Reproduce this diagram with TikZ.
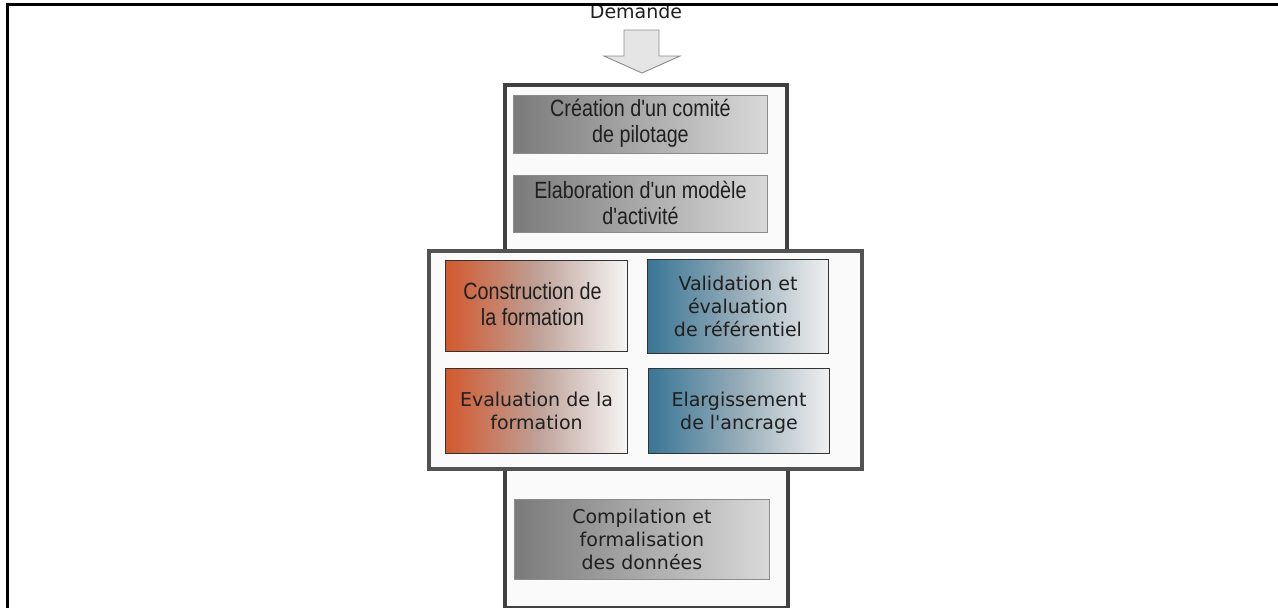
\documentclass[tikz,border=0pt]{standalone}
\usepackage{fontspec}
\setmainfont{DejaVu Sans}
\newfontfamily\narrowfont[FakeStretch=0.84]{Liberation Sans}
\definecolor{orl}{RGB}{211,88,46}
\definecolor{orm}{RGB}{190,160,150}
\definecolor{orr}{RGB}{246,246,246}
\definecolor{bll}{RGB}{57,118,150}
\definecolor{blm}{RGB}{150,172,184}
\definecolor{blr}{RGB}{240,240,240}
\begin{document}
\begin{tikzpicture}[x=1pt,y=-1pt,
  txt/.style={font=\fontsize{19}{23}\selectfont, text=black!88, align=center, inner sep=0pt},
  ntxt/.style={font=\narrowfont\fontsize{23.5}{26.5}\selectfont, text=black!88, align=center, inner sep=0pt},
  frame/.style={draw=black!75, line width=3.8pt, fill=white!98!black, rectangle, inner sep=0pt, anchor=north west},
  graybox/.style={rectangle, anchor=north west, draw=black!45, line width=0.9pt, left color=black!52, right color=black!15},
  orangebox/.style={rectangle, anchor=north west, draw=black!80, line width=1pt, left color=orl, right color=orr, middle color=orm},
  bluebox/.style={rectangle, anchor=north west, draw=black!80, line width=1pt, left color=bll, right color=blr, middle color=blm},
]
\useasboundingbox (0,0) rectangle (1278,608);
\fill[white] (0,0) rectangle (1278,608);

% Demande + block arrow
\node[txt, anchor=base] (dem) at (636,18.5) {Demande};
\coordinate (a1) at (624,30);
\coordinate (a2) at (659,30);
\coordinate (a3) at (659,56);
\coordinate (a4) at (680,56);
\coordinate (tip) at (642,73);
\coordinate (a6) at (604,56);
\coordinate (a7) at (624,56);
\filldraw[fill=black!10, draw=black!45, line width=0.9pt, line join=miter]
  (a1) -- (a2) -- (a3) -- (a4) -- (tip) -- (a6) -- (a7) -- cycle;

% outer frames
\node[frame, minimum width=282pt, minimum height=166pt] (topf) at (503,83) {};
\node[frame, minimum width=283pt, minimum height=140pt] (botf) at (503,466) {};
\node[frame, draw=black!68, minimum width=433pt, minimum height=218pt] (midf) at (427,249) {};

% top boxes
\node[graybox, minimum width=254pt, minimum height=58pt] (b1) at (513,95) {};
\node[ntxt] at ([yshift=1pt]b1.center) {Création d'un comité\\de pilotage};
\node[graybox, minimum width=254pt, minimum height=57pt] (b2) at (513,175) {};
\node[ntxt] at ([yshift=1pt]b2.center) {Elaboration d'un modèle\\d'activité};

% middle boxes
\node[orangebox, minimum width=182pt, minimum height=91pt] (c1) at (445,260) {};
\node[ntxt] at ([xshift=-4pt,yshift=2pt]c1.center) {Construction de\\la formation};
\node[bluebox, minimum width=181pt, minimum height=94pt] (c2) at (647,259) {};
\node[txt] at ([yshift=0pt]c2.center) {Validation et\\évaluation\\de référentiel};
\node[orangebox, minimum width=182pt, minimum height=85pt] (c3) at (445,368) {};
\node[txt] at ([yshift=0pt]c3.center) {Evaluation de la\\formation};
\node[bluebox, minimum width=181pt, minimum height=85pt] (c4) at (648,368) {};
\node[txt] at ([yshift=-2pt]c4.center) {Elargissement\\de l\textquotesingle ancrage};

% bottom box
\node[graybox, minimum width=255pt, minimum height=80pt] (d1) at (514,499) {};
\node[txt] at ([yshift=0pt]d1.center) {Compilation et\\formalisation\\des données};

% page frame lines
\coordinate (fl) at (7,4);
\coordinate (fr) at (1278,4);
\coordinate (fb) at (7,608);
\draw[black, line width=3pt] (fr) -- (fl) -- (fb);
\end{tikzpicture}
\end{document}
